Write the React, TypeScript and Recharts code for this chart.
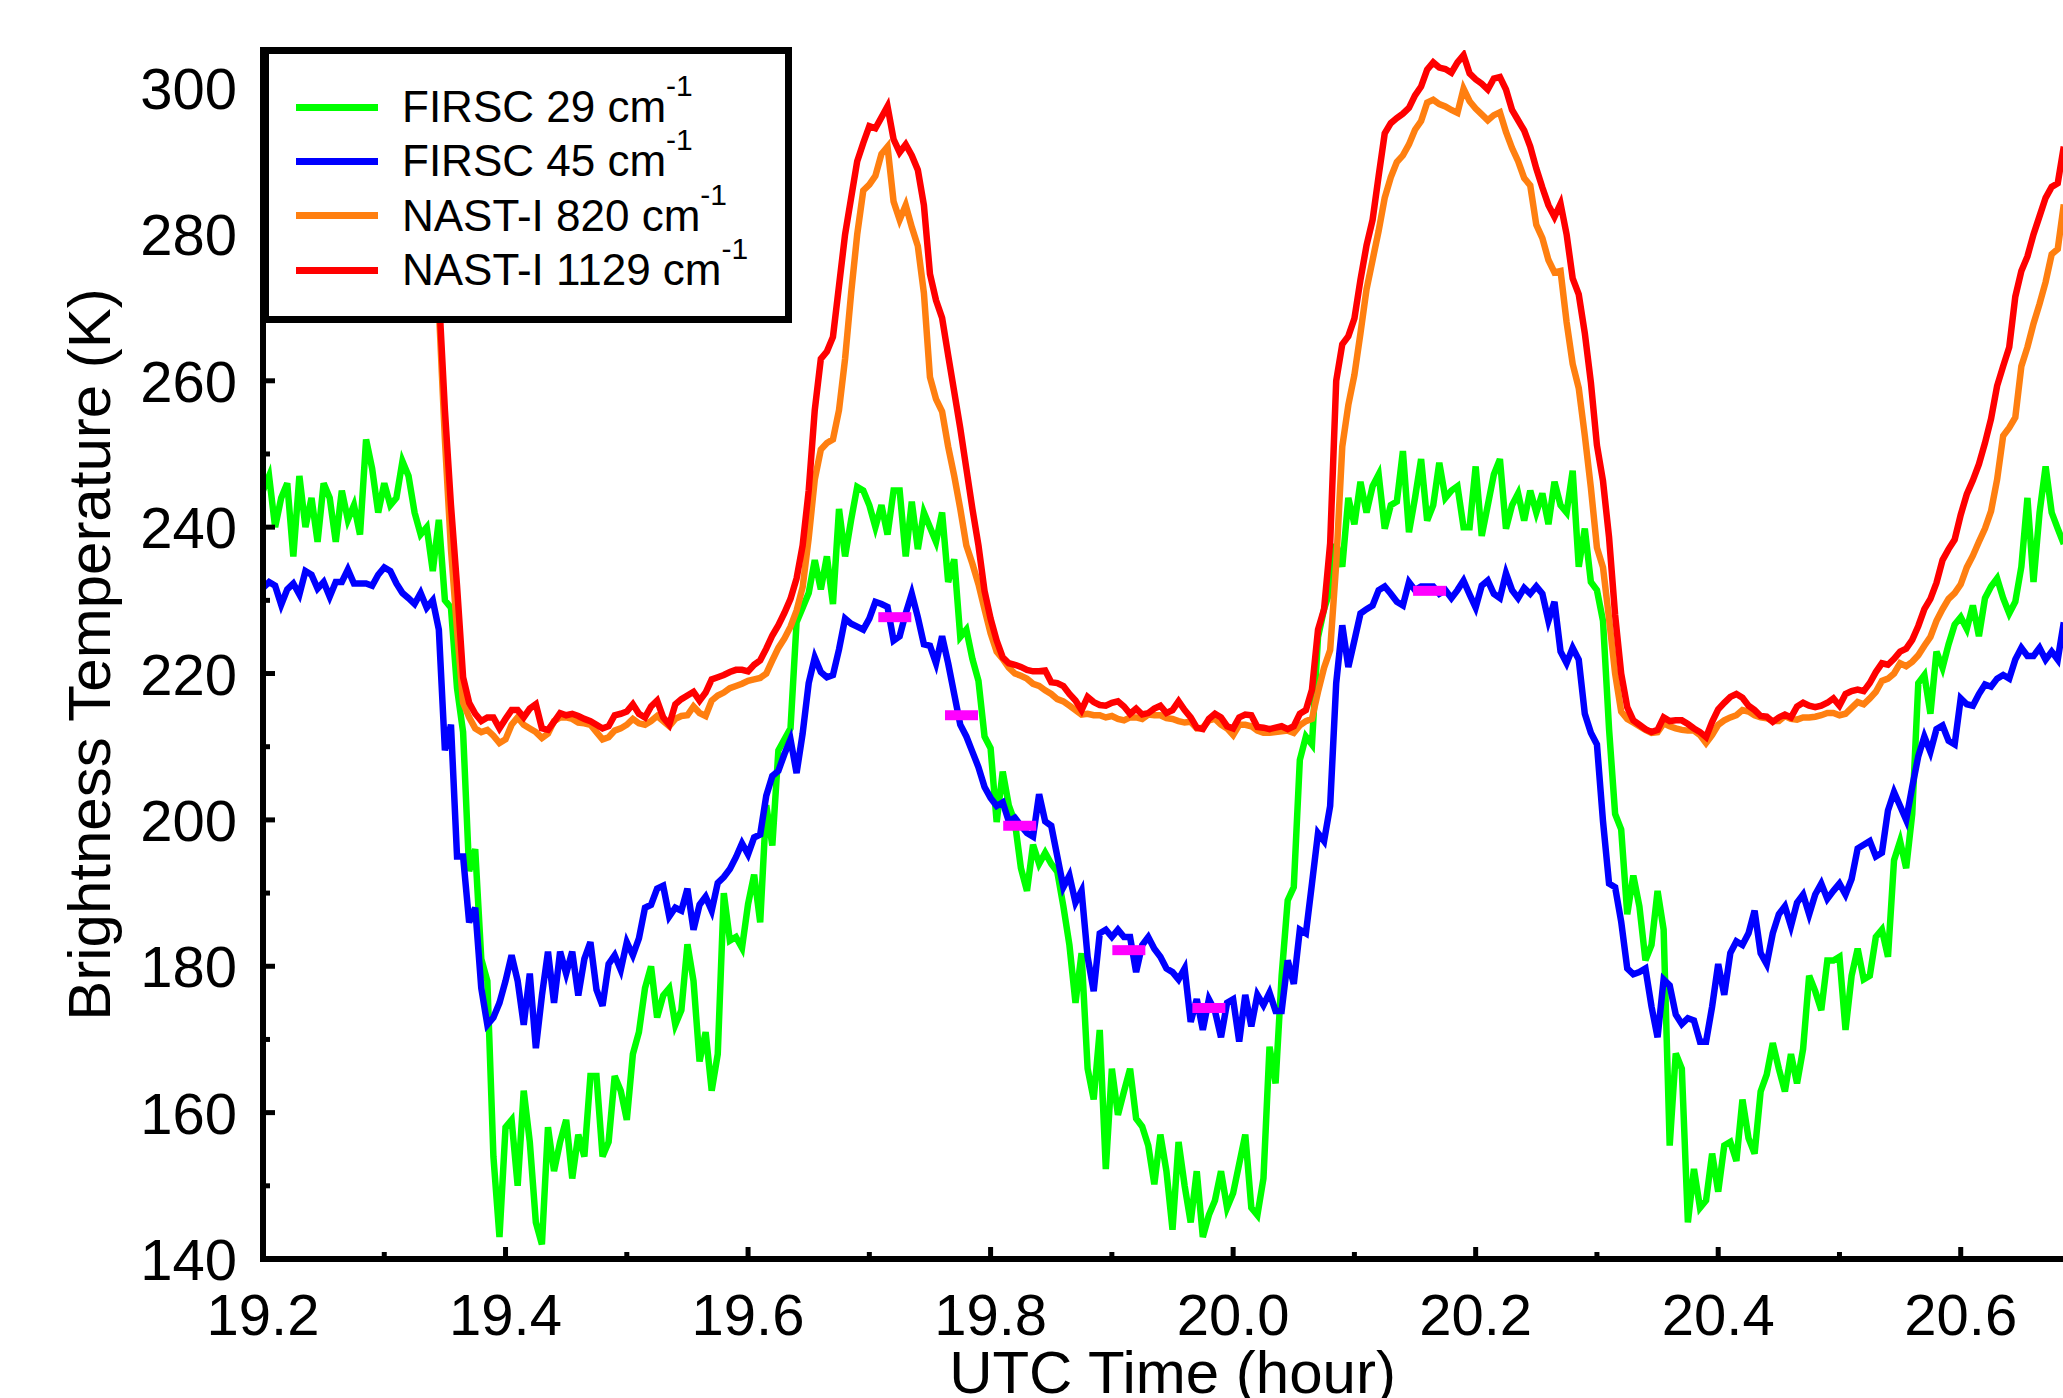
import { ComposedChart, Label, Legend, Line, Scatter, XAxis, YAxis } from 'recharts'

// sampling of the time axis (hours, UTC)
const T0 = 19.2
const DT = 0.005
// NAST-I curves start at this sample index
const NAST_START = 28

const firsc29 = [
  245, 247, 240, 244, 246, 236, 247, 240, 244, 238,
  246, 244, 238, 245, 241, 243, 239, 252, 248, 242,
  246, 243, 244, 249, 247, 242, 239, 240, 234, 241,
  230, 229, 218, 212, 193, 196, 181, 178, 154, 143,
  158, 159, 150, 163, 156, 145, 142, 158, 152, 156,
  159, 151, 157, 154, 165, 165, 154, 156, 165, 163,
  159, 168, 171, 177, 180, 173, 176, 177, 172, 174,
  183, 178, 167, 171, 163, 168, 190, 183.5, 184, 182.5,
  188.5, 192.5, 186, 202, 196.5, 209.5, 211, 212.5, 227, 229,
  231, 235.5, 231.5, 236, 229.5, 242.5, 236, 241, 245.5, 245,
  243, 240, 243, 239, 245, 245, 236, 243.5, 237, 242,
  240, 238, 242, 232.5, 235.6, 225, 226, 222, 219, 211.4,
  209.8, 199.7, 206.6, 202, 199.7, 193.4, 190.3, 196.6, 194, 195.5,
  194, 192.9, 188.2, 182.9, 175, 181.8, 166, 161.8, 171.3, 152.3,
  166, 159.7, 162.9, 166, 159.2, 158.1, 155.5, 150.2, 157, 152,
  144, 156, 150, 145, 152, 143, 146, 148, 152, 147,
  149, 153, 157, 147, 146, 151, 169, 164, 178.7, 189,
  190.8, 208.2, 211.4, 210.3, 225, 228.8, 231.4, 237.7, 234.6, 244,
  240.4, 246.2, 242, 245.6, 247.2, 239.8, 243, 243.5, 250.4, 239.3,
  244, 249.3, 240.9, 243, 248.8, 244, 245, 245.6, 240, 240,
  248.3, 238.8, 243, 247.2, 249.3, 239.8, 243, 244.6, 240.9, 245,
  242, 244.6, 240.4, 246.2, 243, 242, 247.7, 234.6, 239.8, 232.5,
  231.4, 227.2, 212.4, 200.8, 198.7, 187.1, 192.4, 188.2, 180.8, 182.9,
  190.3, 185, 155.5, 168.1, 166, 145, 152.3, 147, 148, 154.4,
  149.2, 155.5, 156, 153.4, 161.8, 156.5, 154.4, 162.9, 165.2, 169.5,
  166, 162.9, 168, 164, 168.7, 178.7, 176.6, 174, 180.8, 180.8,
  181.3, 171.3, 178.7, 182.4, 178.2, 178.7, 184, 185, 181.3, 194.5,
  197.1, 193.4, 200.8, 218.7, 219.8, 214.5, 223, 220.8, 224, 226.7,
  227.7, 226.1, 229.3, 225.1, 230.3, 231.9, 233, 230.3, 228.2, 229.8,
  234.6, 244, 232.5, 242, 248.3, 242, 239.8, 237.7,
]

const firsc45 = [
  231.7, 232.5, 232, 229.4, 231.5, 232.3, 230.8, 234, 233.5, 231.6,
  232.5, 230.5, 232.5, 232.5, 234.2, 232.3, 232.3, 232.3, 232, 233.5,
  234.5, 234, 232.3, 231, 230.3, 229.5, 231, 229, 230, 226,
  209.5, 213, 195, 195, 186, 188, 177, 172, 173, 175,
  178, 181.5, 178, 172, 179, 168.8, 176, 182, 175, 182,
  179, 182, 176, 181, 183.3, 176.8, 174.6, 180.3, 181.5, 179.5,
  183.3, 181.5, 183.8, 188, 188.4, 190.6, 191, 186.8, 188, 187.6,
  190.6, 185, 188.4, 189.5, 187.6, 191.4, 192.2, 193.3, 194.9, 196.8,
  195.3, 197.6, 198, 203.3, 206, 206.7, 209, 211, 206.4, 211.8,
  218.7, 222.2, 220.2, 219.5, 219.8, 223.3, 227.5, 226.8, 226.4, 226,
  227.5, 229.8, 229.5, 229.1, 224.5, 225.1, 228.2, 230.9, 227.7, 224,
  223.8, 221.4, 225.1, 221.4, 217.2, 213, 211.4, 209.3, 207.2, 204.5,
  203, 201.9, 202.4, 199.8, 200.3, 199.2, 198.2, 197.7, 203.5, 199.8,
  199.2, 195, 190.8, 192.4, 188.7, 190.3, 181.3, 176.6, 184.5, 185,
  184, 185, 184, 184, 179.2, 182.9, 184, 182.4, 181.3, 179.7,
  179.2, 178.2, 179.7, 172.4, 175.5, 171.3, 175.5, 173.9, 170.3, 175,
  175.5, 169.7, 176.1, 171.8, 176.1, 174.7, 176.4, 173.9, 173.9, 180.8,
  177.6, 185, 184.5, 191.3, 198.2, 197.1, 201.9, 218.7, 226.6, 220.9,
  224.5, 228.2, 228.8, 229.3, 231.4, 231.9, 230.9, 229.8, 229.3, 232.5,
  231.4, 231.9, 231.9, 231.9, 230.9, 231.4, 230.3, 231.4, 232.7, 230.8,
  229, 232, 232.7, 230.9, 230.3, 233.7, 231.4, 230.3, 231.7, 230.9,
  231.9, 230.9, 227.2, 229.8, 223, 221.4, 223.5, 221.9, 214.5, 211.9,
  210.3, 199.8, 191.3, 190.8, 186.1, 179.7, 178.9, 179.2, 179.7, 174.5,
  170.3, 178.2, 177.4, 173.4, 172.1, 172.9, 172.6, 169.7, 169.7, 174.5,
  180.3, 176.1, 181.8, 183.4, 182.9, 184.5, 187.6, 181.8, 180.3, 184.5,
  187.1, 188.2, 185.5, 188.7, 189.8, 187.1, 189.8, 191.3, 189.2, 190.3,
  191.3, 189.8, 191.9, 196.1, 196.6, 197.1, 195, 195.5, 201.3, 203.8,
  201.9, 200, 204.5, 208.7, 211.4, 209.3, 212.4, 212.9, 210.8, 210.3,
  216.6, 215.8, 215.6, 217.2, 218.5, 218.2, 219.3, 219.8, 219.3, 221.9,
  223.5, 222.4, 222.4, 223.5, 221.9, 223, 221.9, 227,
]

// from sample 28 on
const nast820 = [
  298, 270,
  252, 237, 226, 216, 214, 212.5, 212, 212.3, 211.5, 210.5,
  211, 213, 214, 213, 212.5, 212, 211.2, 211.8, 213.5, 214,
  214, 213.8, 213.3, 213.2, 213, 212, 211, 211.3, 212.2, 212.5,
  213, 213.8, 213.2, 213, 213.5, 214.2, 213.5, 212.8, 213.8, 214.2,
  214.3, 215.5, 214.6, 214.2, 216.3, 217, 217.4, 218, 218.3, 218.6,
  219, 219.2, 219.4, 220, 221.8, 223.5, 224.8, 226.4, 228.6, 231.8,
  238.5, 246.5, 250.6, 251.5, 252, 256, 263, 272, 280, 286,
  286.8, 288, 291, 292, 284.5, 282, 284, 281, 278.4, 272,
  260.5, 257.5, 255.8, 251, 247, 242.5, 237.5, 235, 232.2, 228.8,
  225.5, 223, 222, 220.8, 220, 219.7, 219.3, 218.6, 218.3, 217.7,
  217.2, 216.5, 216.2, 215.6, 215, 214.4, 214.5, 214.3, 214.3, 214,
  214.2, 213.8, 213.6, 214, 214, 213.8, 214.4, 214.3, 214.3, 213.9,
  213.8, 213.5, 213.3, 213.4, 212.5, 212.6, 213.6, 213.8, 213, 212.5,
  211.6, 213, 213, 212.8, 212.2, 211.9, 211.9, 212, 212.1, 212.2,
  211.9, 212.9, 213.5, 213.8, 217.5, 220.8, 223.2, 235, 251, 256.7,
  260.8, 266.5, 272.5, 276.5, 280.5, 285, 287.8, 289.9, 290.8, 292.3,
  294.3, 295.5, 298, 298.4, 297.8, 297.5, 297, 296.6, 299.9, 298.2,
  297.2, 296.4, 295.6, 296.3, 296.7, 294, 291.8, 290, 287.7, 286.7,
  281.3, 279.5, 276.5, 274.8, 275, 268, 262.3, 259, 252.5, 245.4,
  237.2, 234.5, 227.5, 220, 214.8, 213.8, 213.3, 212.8, 212.3, 211.9,
  212, 213.2, 212.8, 212.5, 212.3, 212.2, 212.2, 211.6, 210.5, 211.6,
  213, 213.6, 214, 214.3, 215, 214.8, 214.3, 214, 213.9, 213.5,
  213.5, 214.2, 213.8, 213.7, 214, 214, 214.1, 214.3, 214.6, 214.6,
  214.3, 214.5, 215.3, 216.1, 215.8, 216.6, 217.5, 219, 219.3, 220,
  221.4, 221, 221.6, 222.5, 223.8, 225, 227.2, 228.8, 230.2, 231,
  232.2, 234.5, 236.1, 238, 239.8, 242.2, 246.5, 252.5, 253.6, 255,
  262, 264.6, 267.8, 270.5, 273.5, 277.3, 278, 284.1,
]

// from sample 28 on
const nast1129 = [
  300, 272,
  256, 243, 232, 219.5, 216, 214.5, 213.5, 214, 214, 212.5,
  213.8, 215, 215, 214, 215.2, 215.8, 212.5, 212.3, 213.4, 214.6,
  214.3, 214.5, 214.2, 213.8, 213.5, 213, 212.5, 212.8, 214.3, 214.5,
  214.8, 215.8, 214.5, 214, 215.5, 216.3, 214, 213, 215.8, 216.5,
  217, 217.5, 216.3, 217.4, 219.2, 219.5, 219.8, 220.2, 220.5, 220.5,
  220.3, 221.2, 221.8, 223.4, 225.2, 226.6, 228.3, 230.2, 233, 237.5,
  245, 256, 263, 264, 266, 273, 280, 285, 290, 292.5,
  294.8, 294.5, 296, 297.5, 293, 291.2, 292.3, 290.8, 288.8, 284,
  274.6, 271, 268.6, 263.5, 258.5, 253.5, 248, 242.5, 237.5, 231.3,
  227.5, 224.5, 222.2, 221.4, 221.2, 220.9, 220.5, 220.3, 220.3, 220.4,
  218.8, 218.7, 218.3, 217.2, 216.3, 215, 216.8, 216.1, 215.7, 215.6,
  216, 216.2, 215.5, 214.5, 215.2, 214.4, 214.6, 215.2, 215.6, 214.6,
  215, 216.2, 215, 214, 212.6, 212.4, 213.8, 214.5, 214, 212.8,
  212.5, 214, 214.4, 214.3, 212.7, 212.6, 212.4, 212.6, 212.8, 212.4,
  212.8, 214.5, 215, 217.8, 226, 228.8, 237.8, 260, 265, 266.1,
  268.5, 273.8, 278.5, 282, 288, 293.8, 295.2, 295.9, 296.5, 297.3,
  299, 300.2, 302.5, 303.5, 302.8, 302.6, 302.1, 303.5, 304.5, 302,
  301.2, 300.6, 299.8, 301.3, 301.5, 299.8, 297, 295.6, 294.2, 292,
  289, 286.4, 284, 282.4, 284.2, 280, 274, 271.8, 266.5, 259.8,
  251.2, 246.3, 238.6, 228, 220, 215.4, 213.6, 213, 212.4, 212,
  212.3, 214, 213.5, 213.6, 213.6, 213.1, 212.5, 212, 211.3, 213.4,
  215.1, 216, 216.8, 217.2, 216.7, 215.6, 215, 214.2, 214.1, 213.4,
  214, 214.4, 214, 215.5, 216, 215.6, 215.4, 215.6, 216, 216.6,
  215.6, 217.2, 217.6, 217.8, 217.6, 218.7, 220.2, 221.4, 221.2, 222,
  223, 223.4, 224.6, 226.5, 228.8, 230.2, 232.4, 235.5, 237, 238.3,
  241.7, 244.5, 246.4, 248.6, 251.5, 254.8, 259.3, 262, 264.6, 271.5,
  275, 277, 280, 282.5, 285, 286.5, 287, 292,
]

// magenta reference marks
const markerTimes = [19.721, 19.776, 19.824, 19.914, 19.98, 20.162]
const markerTemps = [227.7, 214.3, 199.2, 182.2, 174.3, 231.3]

const seriesNames = ['FIRSC 29 cm', 'FIRSC 45 cm', 'NAST-I 820 cm', 'NAST-I 1129 cm']
const xTicks = [19.2, 19.3, 19.4, 19.5, 19.6, 19.7, 19.8, 19.9, 20.0, 20.1, 20.2, 20.3, 20.4, 20.5, 20.6, 20.7]
const yTicks = [140, 150, 160, 170, 180, 190, 200, 210, 220, 230, 240, 250, 260, 270, 280, 290, 300]

const data = firsc29.map((g, i) => ({
  t: +(T0 + i * DT).toFixed(3),
  g,
  b: firsc45[i],
  o: i >= NAST_START ? nast820[i - NAST_START] : null,
  r: i >= NAST_START ? nast1129[i - NAST_START] : null,
}))

const markers = markerTimes.map((t, i) => ({ t, mk: markerTemps[i] }))

const FONT = '"Liberation Sans", Arial, Helvetica, sans-serif'
const TICK_FONT = 58
const LINE_W = 6.5

const isMajorX = (v: number) => Math.round(v * 10) % 2 === 0
const isMajorY = (v: number) => Math.round(v) % 20 === 0

const BottomTick = ({ x, y, payload }: any) => {
  const v = payload.value
  const major = isMajorX(v)
  return (
    <g>
      <line x1={x} x2={x} y1={y} y2={y - (major ? 12 : 7)} stroke="#000" strokeWidth={5} />
      {major && v < 20.65 && (
        <text x={x} y={y + 76} textAnchor="middle" fontSize={TICK_FONT} fontFamily={FONT} fill="#000">
          {v.toFixed(1)}
        </text>
      )}
    </g>
  )
}

const TopTick = ({ x, y, payload }: any) => {
  const major = isMajorX(payload.value)
  return <line x1={x} x2={x} y1={y} y2={y + (major ? 12 : 7)} stroke="#000" strokeWidth={5} />
}

const LeftTick = ({ x, y, payload }: any) => {
  const v = payload.value
  const major = isMajorY(v)
  return (
    <g>
      <line x1={x} x2={x + (major ? 12 : 7)} y1={y} y2={y} stroke="#000" strokeWidth={5} />
      {major && (
        <text x={x - 26} y={y + 21} textAnchor="end" fontSize={TICK_FONT} fontFamily={FONT} fill="#000">
          {v}
        </text>
      )}
    </g>
  )
}

const LegendBox = ({ payload }: any) => {
  const items = (payload ?? [])
    .filter((p: any) => seriesNames.includes(p.value))
    .sort((a: any, b: any) => seriesNames.indexOf(a.value) - seriesNames.indexOf(b.value))
  return (
    <div
      style={{
        width: 530,
        height: 276,
        border: '7px solid #000',
        boxSizing: 'border-box',
        background: '#fff',
        paddingTop: 26,
        fontFamily: FONT,
      }}
    >
      {items.map((p: any) => (
        <div key={p.value} style={{ height: 54.3, display: 'flex', alignItems: 'center' }}>
          <div style={{ marginLeft: 27, width: 82, height: 7, background: p.color }} />
          <div style={{ marginLeft: 24, fontSize: 44, lineHeight: '54px', whiteSpace: 'nowrap', color: '#000' }}>
            {p.value}
            <span style={{ fontSize: 30, lineHeight: 0, position: 'relative', top: -26 }}>-1</span>
          </div>
        </div>
      ))}
    </div>
  )
}

const MarkerBar = ({ cx, cy }: any) => (
  <rect x={cx - 16.5} y={cy - 5} width={33} height={10} fill="#FF00FF" />
)

const axisLine = { stroke: '#000', strokeWidth: 6, strokeLinecap: 'square' as const }

export default function App() {
  return (
    <div
      style={{
        position: 'absolute',
        left: 0,
        top: 0,
        width: 2063,
        height: 1398,
        overflow: 'hidden',
        background: '#fff',
      }}
    >
      <ComposedChart
        width={2100}
        height={1398}
        data={data}
        margin={{ top: 50, right: 18, bottom: 0, left: 0 }}
      >
        <XAxis
          dataKey="t"
          type="number"
          domain={[19.2, 20.7]}
          allowDataOverflow
          ticks={xTicks}
          interval={0}
          height={139}
          tickSize={0}
          tickMargin={0}
          tickLine={false}
          axisLine={axisLine}
          tick={(props: any) => <BottomTick {...props} />}
        >
          <Label
            content={(props: any) => {
              const vb = props.viewBox ?? { x: 263, y: 1259, width: 1819, height: 139 }
              return (
                <text
                  x={vb.x + vb.width / 2}
                  y={vb.y + 134}
                  textAnchor="middle"
                  fontSize={60}
                  fontFamily={FONT}
                  fill="#000"
                >
                  UTC Time (hour)
                </text>
              )
            }}
          />
        </XAxis>
        <XAxis
          xAxisId="top"
          orientation="top"
          dataKey="t"
          type="number"
          domain={[19.2, 20.7]}
          allowDataOverflow
          ticks={xTicks}
          interval={0}
          height={0}
          tickSize={0}
          tickMargin={0}
          tickLine={false}
          axisLine={axisLine}
          tick={(props: any) => <TopTick {...props} />}
        />
        <YAxis
          type="number"
          domain={[140, 305.2]}
          allowDataOverflow
          ticks={yTicks}
          interval={0}
          width={263}
          tickSize={0}
          tickMargin={0}
          tickLine={false}
          axisLine={axisLine}
          tick={(props: any) => <LeftTick {...props} />}
        >
          <Label
            content={(props: any) => {
              const vb = props.viewBox ?? { x: 0, y: 50, width: 263, height: 1209 }
              const cx = vb.x + 89
              const cy = vb.y + vb.height / 2
              return (
                <text
                  x={cx}
                  y={cy}
                  textAnchor="middle"
                  dominantBaseline="central"
                  transform={`rotate(-90, ${cx}, ${cy})`}
                  fontSize={60}
                  fontFamily={FONT}
                  fill="#000"
                >
                  Brightness Temperature (K)
                </text>
              )
            }}
          />
        </YAxis>
        <Line
          dataKey="g"
          name={seriesNames[0]}
          stroke="#00FF00"
          strokeWidth={LINE_W}
          dot={false}
          activeDot={false}
          isAnimationActive={false}
        />
        <Line
          dataKey="b"
          name={seriesNames[1]}
          stroke="#0000FF"
          strokeWidth={LINE_W}
          dot={false}
          activeDot={false}
          isAnimationActive={false}
        />
        <Line
          dataKey="o"
          name={seriesNames[2]}
          stroke="#FF7F10"
          strokeWidth={LINE_W}
          dot={false}
          activeDot={false}
          isAnimationActive={false}
        />
        <Line
          dataKey="r"
          name={seriesNames[3]}
          stroke="#FF0000"
          strokeWidth={LINE_W}
          dot={false}
          activeDot={false}
          isAnimationActive={false}
        />
        <Scatter
          data={markers}
          dataKey="mk"
          legendType="none"
          shape={(props: any) => <MarkerBar {...props} />}
          isAnimationActive={false}
        />
        <Legend
          layout="vertical"
          align="center"
          verticalAlign="middle"
          wrapperStyle={{ left: 262, top: 47, width: 530 }}
          content={(props: any) => <LegendBox payload={props.payload} />}
        />
      </ComposedChart>
    </div>
  )
}
